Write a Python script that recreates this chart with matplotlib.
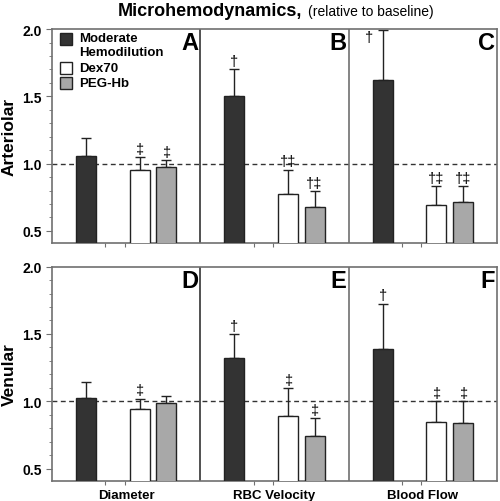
import matplotlib.pyplot as plt
from matplotlib.patches import Rectangle

plt.rcParams["font.family"] = ["Liberation Sans", "DejaVu Sans"]

measures = ["Diameter", "RBC Velocity", "Blood Flow"]
groups = ["Moderate\nHemodilution", "Dex70", "PEG-Hb"]
colors = ["#333333", "#ffffff", "#a8a8a8"]

# arteriolar: mean and upper error, per measure (Diameter, RBC Velocity, Blood Flow)
art_mod = [1.06, 1.50, 1.62]
art_mod_err = [0.13, 0.20, 0.37]
art_dex = [0.955, 0.775, 0.695]
art_dex_err = [0.095, 0.18, 0.135]
art_peg = [0.975, 0.675, 0.715]
art_peg_err = [0.05, 0.12, 0.115]
art_marks = [["", "‡", "‡"], ["†", "†‡", "†‡"], ["†", "†‡", "†‡"]]

# venular
ven_mod = [1.025, 1.32, 1.385]
ven_mod_err = [0.12, 0.18, 0.34]
ven_dex = [0.94, 0.893, 0.85]
ven_dex_err = [0.08, 0.205, 0.15]
ven_peg = [0.99, 0.74, 0.84]
ven_peg_err = [0.05, 0.135, 0.16]
ven_marks = [["", "‡", ""], ["†", "‡", "‡"], ["†", "‡", "‡"]]

letters_top = ["A", "B", "C"]
letters_bot = ["D", "E", "F"]

offsets = [0.23, 0.59, 0.77]
bar_w = 0.135
spine_col = "#707070"


def draw_panel(ax, means, errs, marks, letters, ylabel):
    for g in range(3):
        xs = [i + offsets[g] for i in range(3)]
        ax.bar(xs, means[g], width=bar_w, color=colors[g], edgecolor="#222222",
               linewidth=1.0, zorder=3)
        ax.errorbar(xs, means[g], yerr=[[0, 0, 0], errs[g]], fmt="none",
                    ecolor="#222222", elinewidth=1.0, capsize=3.6, capthick=1.0,
                    zorder=2)
    for i in range(3):
        for g in range(3):
            m = marks[i][g]
            if not m:
                continue
            top = means[g][i] + errs[g][i]
            x = i + offsets[g]
            if top > 1.9:
                ax.text(x - 0.09, top + 0.005, m, ha="center", va="top",
                        fontsize=10.5, zorder=4)
            else:
                ax.text(x, top + 0.01, m, ha="center", va="bottom",
                        fontsize=10.5, zorder=4)
        ax.text(i + 0.985, 1.985, letters[i], ha="right", va="top",
                fontsize=17, fontweight="bold", zorder=5)

    ax.axhline(1.0, color="#333333", linestyle=(0, (3.5, 2.5)), linewidth=1.0,
               zorder=1)
    ax.axvline(1, color="#333333", linewidth=1.2, zorder=1)
    ax.axvline(2, color=spine_col, linewidth=1.2, zorder=1)

    ax.set_xlim(0, 3)
    ax.set_ylim(0.41, 2.0)
    ax.set_yticks([0.5, 1.0, 1.5, 2.0])
    ax.set_yticks([v / 10 for v in range(5, 20)], minor=True)
    ax.set_yticklabels(["0.5", "1.0", "1.5", "2.0"], fontsize=10,
                       fontweight="bold")
    ax.set_xticks([i + t for i in range(3) for t in (0.36, 0.49)])
    ax.set_xticklabels([])
    ax.tick_params(axis="y", which="major", length=4, color=spine_col)
    ax.tick_params(axis="y", which="minor", length=2, color=spine_col)
    ax.tick_params(axis="x", length=3, color=spine_col)
    for s in ax.spines.values():
        s.set_color(spine_col)
        s.set_linewidth(1.2)
    ax.set_ylabel(ylabel, fontsize=12.5, fontweight="bold", labelpad=4)


fig = plt.figure(figsize=(5, 5.02), dpi=100)
ax1 = fig.add_axes([0.104, 0.514, 0.89, 0.426])
ax2 = fig.add_axes([0.104, 0.040, 0.89, 0.427])

draw_panel(ax1, [art_mod, art_dex, art_peg], [art_mod_err, art_dex_err, art_peg_err],
           art_marks, letters_top, "Arteriolar")
draw_panel(ax2, [ven_mod, ven_dex, ven_peg], [ven_mod_err, ven_dex_err, ven_peg_err],
           ven_marks, letters_bot, "Venular")

# category labels under the bottom panel
for i, name in enumerate(measures):
    ax2.text(i + 0.5, -0.04, name, transform=ax2.get_xaxis_transform(),
             ha="center", va="top", fontsize=9.5, fontweight="bold")

# legend inside panel A (box centre heights in axes fraction)
leg_rows = [0.955, 0.818, 0.748]
for g in range(3):
    ax1.add_patch(Rectangle((0.018, leg_rows[g] - 0.028), 0.027, 0.056,
                            transform=ax1.transAxes, facecolor=colors[g],
                            edgecolor="#222222", linewidth=1.0, zorder=5))
    ty = leg_rows[g] + (0.03 if g == 0 else 0)
    ax1.text(0.06, ty, groups[g], transform=ax1.transAxes,
             ha="left", va="top" if g == 0 else "center", fontsize=9.5,
             fontweight="bold", linespacing=1.15, zorder=5)

fig.text(0.236, 0.978, "Microhemodynamics,", ha="left", va="center",
         fontsize=13, fontweight="bold")
fig.text(0.616, 0.976, "(relative to baseline)", ha="left", va="center",
         fontsize=10)

fig.savefig("out.png", dpi=100)
